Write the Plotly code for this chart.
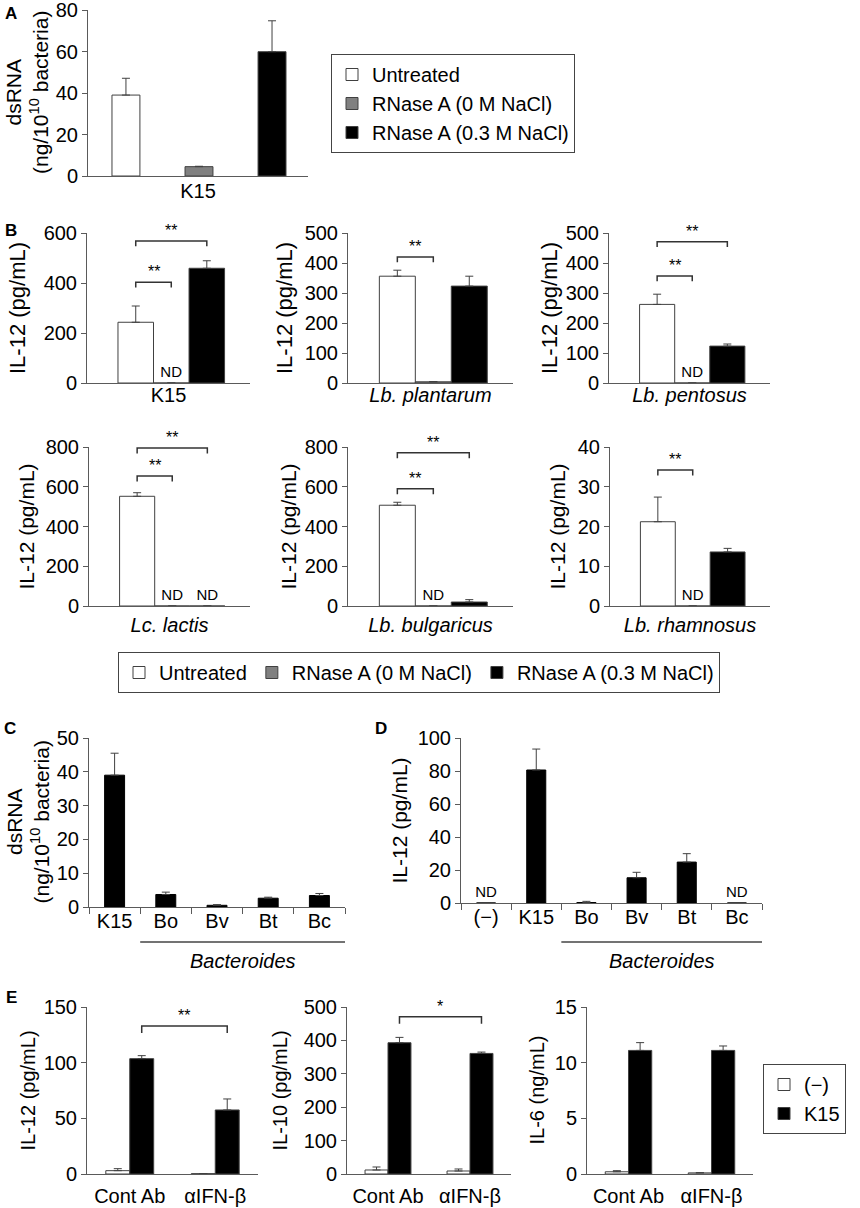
import plotly.graph_objects as go

W, H = 860, 1208
FONT = 'Liberation Sans, Arial, sans-serif'
AXC = '#5a5a5a'
EDGE = '#404040'

# ---------------- data ----------------
# A: dsRNA in K15
a_groups = ['Untreated', 'RNase A (0 M NaCl)', 'RNase A (0.3 M NaCl)']
a_cat = ['K15']
a_vals = [39.0, 4.5, 59.9]
a_errs = [8.1, 0.2, 14.9]

# B: IL-12 per strain (None = ND)
b_strains = ['K15', '<i>Lb. plantarum</i>', '<i>Lb. pentosus</i>',
             '<i>Lc. lactis</i>', '<i>Lb. bulgaricus</i>', '<i>Lb. rhamnosus</i>']
b_untreated = [243, 356, 262, 552, 507, 21.2]
b_untreated_err = [65, 20, 34, 18, 15, 6.2]
b_rnase0 = [None, 4, None, None, None, None]
b_rnase0_err = [0, 1, 0, 0, 0, 0]
b_rnase03 = [459, 323, 123, None, 20, 13.6]
b_rnase03_err = [30, 33, 7, 0, 12, 0.9]
b_ymax = [600, 500, 500, 800, 800, 40]
b_dtick = [200, 100, 100, 200, 200, 10]
# (from group, to group, bracket height, label)
b_sig = [
    [(0, 1, 403, '**'), (0, 2, 568, '**')],
    [(0, 1, 420, '**')],
    [(0, 1, 357, '**'), (0, 2, 471, '**')],
    [(0, 1, 654, '**'), (0, 2, 795, '**')],
    [(0, 1, 590, '**'), (0, 2, 771, '**')],
    [(0, 1, 34.2, '**')],
]

# C: dsRNA in K15 and Bacteroides
c_cats = ['K15', 'Bo', 'Bv', 'Bt', 'Bc']
c_vals = [39.0, 3.7, 0.5, 2.6, 3.4]
c_errs = [6.5, 0.7, 0.2, 0.3, 0.6]

# D: IL-12 with Bacteroides (None = ND)
d_cats = ['(\u2212)', 'K15', 'Bo', 'Bv', 'Bt', 'Bc']
d_vals = [None, 80.6, 0.3, 15.3, 24.8, None]
d_errs = [0, 12.7, 0.7, 3.3, 5.1, 0]

# E: cytokines with antibodies
e_cats = ['Cont Ab', '\u03b1IFN-\u03b2']
e_groups = ['(\u2212)', 'K15']
e_titles = ['IL-12 (pg/mL)', 'IL-10 (pg/mL)', 'IL-6 (ng/mL)']
e_neg = [[3.0, 0.3], [12, 9], [0.2, 0.1]]
e_neg_err = [[1.8, 0.1], [9, 6], [0.1, 0.02]]
e_k15 = [[103.6, 57.5], [393, 361], [11.1, 11.1]]
e_k15_err = [[2.7, 9.9], [16, 4], [0.7, 0.4]]
e_ymax = [150, 500, 15]
e_dtick = [50, 100, 5]
e_sig = [[(0, 1, 133, '**')], [(0, 1, 471, '*')], []]

# ---------------- helpers ----------------
fig = go.Figure()
layout = dict(width=W, height=H, margin=dict(l=0, r=0, t=0, b=0),
              paper_bgcolor='white', plot_bgcolor='white', barmode='overlay',
              font=dict(family=FONT, size=20, color='black'), showlegend=True)


def dx(a, b):
    return [a / W, b / W]


def dy(top, bottom):
    return [1 - bottom / H, 1 - top / H]


def ref(letter, i):
    return letter if i == 1 else f'{letter}{i}'


def key(letter, i):
    return f'{letter}axis' if i == 1 else f'{letter}axis{i}'


def y_axis(i, dom, ymax, dtick):
    layout[key('y', i)] = dict(domain=dom, range=[0, ymax], dtick=dtick, tick0=0,
                               anchor=ref('x', i), showline=True, linecolor=AXC, linewidth=1,
                               ticks='outside', ticklen=5, tickcolor=AXC, showgrid=False,
                               zeroline=False, automargin=False, fixedrange=True,
                               ticklabeloverflow='allow', tickfont=dict(size=20))


def x_axis(i, dom, labels, standoff, category=False):
    d = dict(domain=dom, anchor=ref('y', i), showline=True, linecolor=AXC, linewidth=1,
             showgrid=False, zeroline=False, automargin=False, fixedrange=True,
             ticklabeloverflow='allow', tickfont=dict(size=20), ticklabelstandoff=standoff)
    if category:
        d.update(type='category', tickson='boundaries', ticks='outside', ticklen=6,
                 tickcolor=AXC, range=[-0.5, len(labels) - 0.5])
    else:
        d.update(range=[-0.5, len(labels) - 0.5], tickmode='array',
                 tickvals=list(range(len(labels))), ticktext=labels, ticks='')
    layout[key('x', i)] = d


def bars(i, x, vals, errs, color, offset=None, width=None, name=None, legend=None,
         line=EDGE):
    y = [0 if v is None else v for v in vals]
    txt = ['ND' if v is None else None for v in vals]
    fig.add_trace(go.Bar(
        x=x, y=y, text=txt, textposition='outside', constraintext='none',
        textfont=dict(size=15, color='black'), cliponaxis=False,
        offset=offset, width=width,
        marker=dict(color=color, line=dict(color=line, width=1)),
        error_y=dict(type='data', array=errs, arrayminus=[0] * len(errs), symmetric=False,
                     color=EDGE, thickness=1, width=4),
        xaxis=ref('x', i), yaxis=ref('y', i), name=name,
        showlegend=legend is not None, legend=legend or 'legend', hoverinfo='skip'))


def bracket(i, xa, xb, h, label, leg, size=16):
    fig.add_trace(go.Scatter(x=[xa, xa, xb, xb], y=[h - leg, h, h, h - leg], mode='lines',
                             line=dict(color='#333333', width=1.5), showlegend=False,
                             hoverinfo='skip', xaxis=ref('x', i), yaxis=ref('y', i)))
    fig.add_annotation(x=(xa + xb) / 2, y=h, xref=ref('x', i), yref=ref('y', i),
                       text=label, showarrow=False, yanchor='bottom',
                       font=dict(size=size))


annots = []


def ytitle(text, xpx, dom, size=21):
    annots.append(dict(text=text, x=xpx / W, y=(dom[0] + dom[1]) / 2, xref='paper',
                       yref='paper', textangle=-90, showarrow=False, font=dict(size=size),
                       xanchor='center', yanchor='middle'))


def letter(text, xpx, ypx):
    annots.append(dict(text=f'<b>{text}</b>', x=xpx / W, y=1 - ypx / H, xref='paper',
                       yref='paper', showarrow=False, font=dict(size=17),
                       xanchor='center', yanchor='middle'))


colors3 = ['white', '#808080', 'black']

# ---------------- A ----------------
a_off = [-0.391, -0.059, 0.273]
a_w = 0.127
dom = dy(10, 176)
y_axis(1, dom, 80, 20)
x_axis(1, dx(88, 308), a_cat, -3)
for g in range(3):
    bars(1, [0], [a_vals[g]], [a_errs[g]], colors3[g], a_off[g], a_w,
         name=a_groups[g], legend='legend')
ytitle('dsRNA<br>(ng/10<sup>10</sup> bacteria)', 27, dom)
letter('A', 11, 13)

# ---------------- B ----------------
b_off = [-0.31, -0.092, 0.126]
b_w = 0.218
b_xdom = [dx(87, 250), dx(348, 513), dx(609, 770), dx(89, 250), dx(348, 513), dx(610, 770)]
b_ydom = [dy(233, 383)] * 3 + [dy(447, 606)] * 3
b_tx = [17, 284, 549, 26, 288, 557]
b_tsize = [22, 22, 22, 21, 21, 21]
b_series = [(b_untreated, b_untreated_err), (b_rnase0, b_rnase0_err), (b_rnase03, b_rnase03_err)]
for k in range(6):
    i = k + 2
    y_axis(i, b_ydom[k], b_ymax[k], b_dtick[k])
    x_axis(i, b_xdom[k], [b_strains[k]], -6 if k < 3 else 1)
    for g in range(3):
        vals, errs = b_series[g]
        bars(i, [0], [vals[k]], [errs[k]], colors3[g], b_off[g], b_w,
             name=a_groups[g], legend='legend2' if k == 0 else None)
    for ga, gb, h, lab in b_sig[k]:
        bracket(i, b_off[ga] + b_w / 2, b_off[gb] + b_w / 2, h, lab, 0.035 * b_ymax[k])
    ytitle('IL-12 (pg/mL)', b_tx[k], b_ydom[k], b_tsize[k])
letter('B', 11, 230)

# ---------------- C ----------------
dom = dy(738, 907)
y_axis(8, dom, 50, 10)
x_axis(8, dx(89, 345), c_cats, -4, category=True)
bars(8, c_cats, c_vals, c_errs, 'black', width=0.39, line='black')
ytitle('dsRNA<br>(ng/10<sup>10</sup> bacteria)', 27, dom)
letter('C', 10, 728)

# ---------------- D ----------------
dom = dy(738, 903)
y_axis(9, dom, 100, 20)
x_axis(9, dx(461, 762), d_cats, -4, category=True)
bars(9, d_cats, d_vals, d_errs, 'black', width=0.38, line='black')
ytitle('IL-12 (pg/mL)', 399, dom)
letter('D', 381, 728)

# Bacteroides underline + label for C and D
for i, (x0, x1) in [(8, (0.5, 4.5)), (9, (1.5, 5.5))]:
    fig.add_shape(type='line', xref=ref('x', i), yref='paper', x0=x0, x1=x1,
                  y0=1 - 942 / H, y1=1 - 942 / H, line=dict(color='#444444', width=1.5))
    annots.append(dict(text='<i>Bacteroides</i>', x=(x0 + x1) / 2, y=1 - 961 / H,
                       xref=ref('x', i), yref='paper', showarrow=False,
                       font=dict(size=20), yanchor='middle'))

# ---------------- E ----------------
e_off = [-0.28, 0.0]
e_w = 0.28
e_xdom = [dx(87, 258), dx(347, 511), dx(587, 753)]
e_tx = [27, 279, 536]
dom = dy(1007, 1174)
for k in range(3):
    i = k + 10
    y_axis(i, dom, e_ymax[k], e_dtick[k])
    x_axis(i, e_xdom[k], e_cats, 4)
    bars(i, [0, 1], e_neg[k], e_neg_err[k], 'white', e_off[0], e_w,
         name=e_groups[0], legend='legend3' if k == 0 else None)
    bars(i, [0, 1], e_k15[k], e_k15_err[k], 'black', e_off[1], e_w,
         name=e_groups[1], legend='legend3' if k == 0 else None)
    for ca, cb, h, lab in e_sig[k]:
        bracket(i, ca + e_off[1] + e_w / 2, cb + e_off[1] + e_w / 2, h, lab,
                0.042 * e_ymax[k])
    ytitle(e_titles[k], e_tx[k], dom, 20)
letter('E', 11, 997)

# ---------------- legends ----------------
leg_common = dict(bgcolor='white', bordercolor='#444444', borderwidth=1,
                  xanchor='left', yanchor='top', traceorder='normal', itemclick=False)
layout['legend'] = dict(leg_common, x=331 / W, y=1 - 54 / H, font=dict(size=20))
layout['legend2'] = dict(leg_common, x=118 / W, y=1 - 652 / H, orientation='h',
                         font=dict(size=20))
layout['legend3'] = dict(leg_common, x=763 / W, y=1 - 1064 / H, font=dict(size=20))

for a in annots:
    fig.add_annotation(**a)
fig.update_layout(**layout)
fig.write_html('out.html', config={'displayModeBar': False},
               post_script="document.body.style.margin='0';")
